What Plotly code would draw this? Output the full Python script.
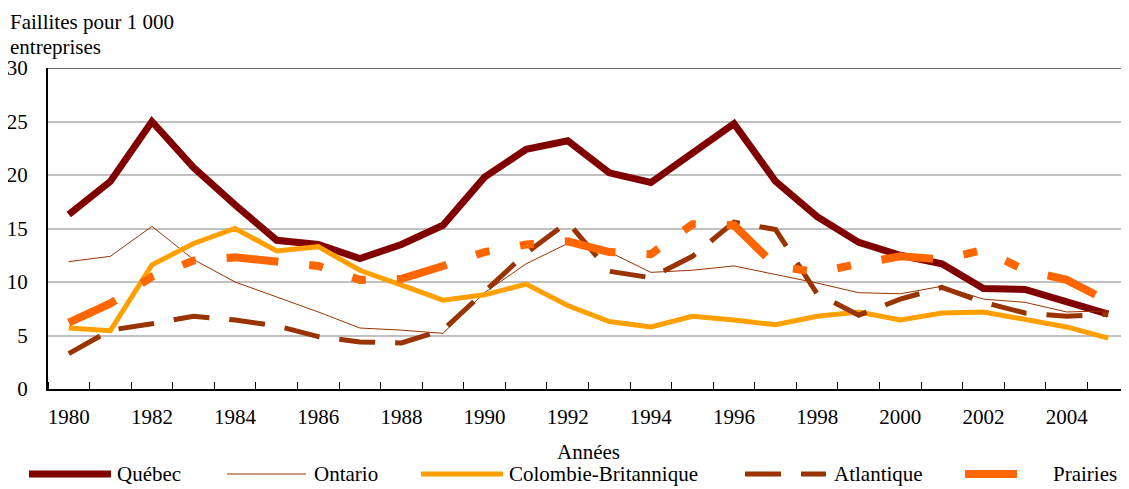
import plotly.graph_objects as go

years = list(range(1980, 2006))
quebec = [16.3, 19.4, 25.0, 20.7, 17.2, 13.9, 13.5, 12.2, 13.5, 15.3, 19.8, 22.4, 23.2,
          20.2, 19.3, 22.0, 24.8, 19.4, 16.1, 13.7, 12.5, 11.7, 9.4, 9.3, 8.2, 7.0]
ontario = [11.9, 12.4, 15.2, 12.1, 10.0, 8.6, 7.2, 5.7, 5.5, 5.2, 9.0, 11.7, 13.6,
           12.8, 10.9, 11.1, 11.5, 10.7, 9.9, 9.0, 8.9, 9.6, 8.4, 8.1, 7.2, 7.3]
colombie = [5.7, 5.45, 11.6, 13.6, 15.0, 12.9, 13.3, 11.1, 9.7, 8.3, 8.8, 9.8, 7.8,
            6.3, 5.8, 6.8, 6.45, 6.0, 6.8, 7.2, 6.45, 7.1, 7.2, 6.5, 5.8, 4.75]
atlantique = [3.3, 5.5, 6.1, 6.8, 6.45, 5.9, 4.9, 4.4, 4.3, 5.5, 9.1, 12.7, 15.6,
              11.0, 10.4, 12.4, 15.6, 14.9, 8.9, 6.9, 8.4, 9.5, 8.1, 7.1, 6.8, 7.0]
prairies = [6.2, 8.0, 10.5, 12.0, 12.3, 11.9, 11.5, 10.2, 10.3, 11.5, 12.8, 13.5, 13.8,
            12.8, 12.6, 15.4, 15.3, 11.5, 10.9, 11.7, 12.4, 12.1, 13.0, 11.1, 10.2, 8.2]

series_names = ["Québec", "Ontario", "Colombie-Britannique", "Atlantique", "Prairies"]
x_tick_labels = [str(y) for y in range(1980, 2005, 2)]
y_ticks = [0, 5, 10, 15, 20, 25, 30]
y_title_lines = ["Faillites pour 1 000", "entreprises"]

FONT = "Liberation Serif"
FS = 21
styles = {
    "Québec": dict(color="#800000", width=7, dash="solid"),
    "Ontario": dict(color="#993300", width=1, dash="solid"),
    "Colombie-Britannique": dict(color="#FFA000", width=5, dash="solid"),
    "Atlantique": dict(color="#993300", width=5, dash="36px,20px"),
    "Prairies": dict(color="#FF6600", width=8, dash="52px,31px,14px,31px,14px,31px"),
}
values = [quebec, ontario, colombie, atlantique, prairies]

# page body has an 8px margin: figure pixel = screen pixel - 8
OFF = 8
W, H = 1129 - OFF, 489 - OFF
L, R, T, B = 48, 1129, 68, 389  # plot area in screen pixels


def px2x(p):
    return (p - L) / (R - L)


def py2y(p):
    return (B - p) / (B - T)


fig = go.Figure()
for name, vals in zip(series_names, values):
    fig.add_trace(go.Scatter(x=years, y=vals, mode="lines", name=name,
                             line=styles[name], showlegend=False))

shapes = [
    dict(type="line", xref="paper", yref="y", x0=0, x1=1, y0=30, y1=30,
         line=dict(color="#666666", width=2), layer="below"),
]
annotations = [
    dict(text="Années", xref="paper", yref="paper", x=0.5, y=py2y(452),
         xanchor="center", yanchor="middle", showarrow=False,
         font=dict(family=FONT, size=FS, color="black")),
]
for line_text, cy in zip(y_title_lines, [22, 47]):
    annotations.append(dict(text=line_text, xref="paper", yref="paper",
                            x=px2x(9), y=py2y(cy), xanchor="left", yanchor="middle",
                            borderpad=0, showarrow=False,
                            font=dict(family=FONT, size=FS, color="black")))

legend_pos = [(29, 111, 115), (227, 306, 312), (421, 503, 507), (745, 826, 832), (965, 1046, 1051)]
ly = 474
for name, (s0, s1, tx) in zip(series_names, legend_pos):
    st = styles[name]
    shapes.append(dict(type="line", xref="paper", yref="paper",
                       x0=px2x(s0), x1=px2x(s1), y0=py2y(ly), y1=py2y(ly),
                       line=dict(color=st["color"], width=st["width"], dash=st["dash"])))
    annotations.append(dict(text=name, xref="paper", yref="paper", x=px2x(tx), y=py2y(ly),
                            xanchor="left", yanchor="middle", showarrow=False,
                            font=dict(family=FONT, size=FS, color="black")))

fig.update_layout(
    width=W, height=H,
    margin=dict(l=L - OFF, r=1129 - R, t=T - OFF, b=489 - B, pad=0),
    paper_bgcolor="white", plot_bgcolor="white",
    font=dict(family=FONT, size=FS, color="black"),
    shapes=shapes, annotations=annotations,
    showlegend=False,
    xaxis=dict(
        range=[1979.5, 2005.5], tickmode="array",
        tickvals=[int(t) for t in x_tick_labels], ticktext=x_tick_labels,
        ticks="", showgrid=False, zeroline=False,
        showline=True, linecolor="black", linewidth=2,
        ticklabelstandoff=8,
        minor=dict(tickmode="array", tickvals=[1979.5 + i for i in range(27)],
                   ticks="inside", ticklen=7, tickwidth=1, tickcolor="black", showgrid=False),
        tickfont=dict(family=FONT, size=FS, color="black"),
    ),
    yaxis=dict(
        range=[0, 30], tickmode="array", tickvals=y_ticks,
        ticktext=[str(v) for v in y_ticks],
        ticks="", showgrid=True, gridcolor="#C0C0C0", gridwidth=2, zeroline=False,
        showline=True, linecolor="black", linewidth=2,
        ticklabelstandoff=14,
        tickfont=dict(family=FONT, size=FS, color="black"),
    ),
)

fig.write_html("out.html")
